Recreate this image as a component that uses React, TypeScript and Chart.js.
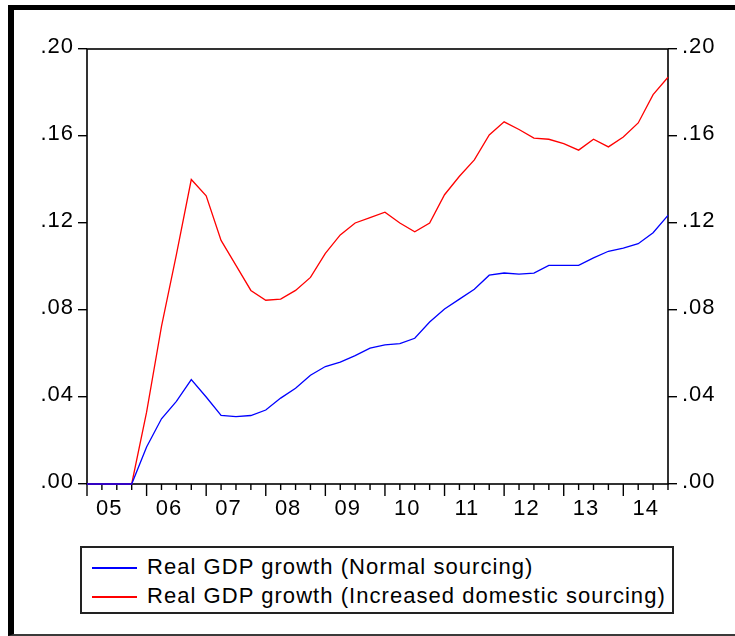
import React, { useEffect, useRef } from 'react';
import { Chart, registerables } from 'chart.js';

Chart.register(...registerables);

// Quarterly periods, 2005Q1 – 2014Q4
const quarters = [
  '2005Q1', '2005Q2', '2005Q3', '2005Q4',
  '2006Q1', '2006Q2', '2006Q3', '2006Q4',
  '2007Q1', '2007Q2', '2007Q3', '2007Q4',
  '2008Q1', '2008Q2', '2008Q3', '2008Q4',
  '2009Q1', '2009Q2', '2009Q3', '2009Q4',
  '2010Q1', '2010Q2', '2010Q3', '2010Q4',
  '2011Q1', '2011Q2', '2011Q3', '2011Q4',
  '2012Q1', '2012Q2', '2012Q3', '2012Q4',
  '2013Q1', '2013Q2', '2013Q3', '2013Q4',
  '2014Q1', '2014Q2', '2014Q3', '2014Q4',
];

const yearLabels = ['05', '06', '07', '08', '09', '10', '11', '12', '13', '14'];

const normalSourcing = [
  0, 0, 0, 0,
  0.017, 0.030, 0.038, 0.048,
  0.040, 0.0315, 0.031, 0.0315,
  0.034, 0.0395, 0.044, 0.050,
  0.054, 0.056, 0.059, 0.0625,
  0.064, 0.0645, 0.067, 0.0745,
  0.0805, 0.085, 0.0895, 0.096,
  0.097, 0.0965, 0.097, 0.1005,
  0.1005, 0.1005, 0.104, 0.107,
  0.1085, 0.1105, 0.1155, 0.1235,
];

const increasedDomestic = [
  0, 0, 0, 0,
  0.033, 0.0725, 0.1055, 0.140,
  0.1325, 0.112, 0.1005, 0.089,
  0.0845, 0.085, 0.089, 0.095,
  0.106, 0.1145, 0.120, 0.1225,
  0.125, 0.120, 0.116, 0.120,
  0.133, 0.1415, 0.149, 0.1605,
  0.1665, 0.163, 0.159, 0.1585,
  0.1565, 0.1535, 0.1585, 0.155,
  0.1595, 0.166, 0.179, 0.187,
];

const yTicks = [0, 0.04, 0.08, 0.12, 0.16, 0.2];

const seriesLabels = [
  'Real GDP growth (Normal sourcing)',
  'Real GDP growth (Increased domestic sourcing)',
];
const seriesColors = ['#0000ff', '#ff0000'];

const FONT = '"Liberation Sans", Arial, Helvetica, sans-serif';

const fmtY = (v: number) => v.toFixed(2).replace(/^0/, '');

// Slightly wider glyph spacing for the axis numbers
const spacingPlugin = {
  id: 'labelSpacing',
  beforeDraw(chart: any) {
    chart.ctx.letterSpacing = '1px';
  },
};

// Plot frame and the quarterly tick marks below the time axis
const framePlugin = {
  id: 'eviewsFrame',
  beforeDatasetsDraw(chart: any) {
    const { ctx, chartArea: a, scales } = chart;
    const xs = scales.x;
    ctx.save();
    ctx.strokeStyle = '#000';
    ctx.lineWidth = 1.6;
    ctx.strokeRect(a.left, a.top, a.right - a.left, a.bottom - a.top);
    ctx.lineWidth = 1.4;
    quarters.forEach((q, i) => {
      const px = xs.getPixelForValue(i);
      const len = q.endsWith('Q1') ? 12 : 6;
      ctx.beginPath();
      ctx.moveTo(px, a.bottom);
      ctx.lineTo(px, a.bottom + len);
      ctx.stroke();
    });
    ctx.restore();
  },
};

function yAxis(position: 'left' | 'right', width: number) {
  return {
    type: 'linear',
    position,
    min: 0,
    max: 0.2,
    afterBuildTicks: (scale: any) => {
      scale.ticks = yTicks.map((v) => ({ value: v }));
    },
    afterFit: (scale: any) => {
      scale.width = width;
    },
    border: { display: false },
    grid: {
      display: true,
      drawOnChartArea: false,
      drawTicks: true,
      tickLength: 9,
      color: '#000',
      lineWidth: 1.4,
    },
    ticks: {
      color: '#000',
      padding: position === 'left' ? 4 : 5,
      labelOffset: -2,
      font: { family: FONT, size: 22 },
      callback: (v: number) => fmtY(v),
    },
  };
}

function GdpChart() {
  const ref = useRef<HTMLCanvasElement | null>(null);

  useEffect(() => {
    if (!ref.current) return;
    const chart = new Chart(ref.current, {
      type: 'line',
      data: {
        datasets: [normalSourcing, increasedDomestic].map((vals, k) => ({
          label: seriesLabels[k],
          data: vals.map((y, i) => ({ x: i, y })),
          borderColor: seriesColors[k],
          backgroundColor: seriesColors[k],
          borderWidth: 1.3,
          pointRadius: 0,
          tension: 0,
          clip: false,
          yAxisID: 'y',
        })),
      },
      options: {
        animation: false,
        responsive: false,
        maintainAspectRatio: false,
        layout: { padding: { top: 49, left: 0, right: 0, bottom: 0 } },
        plugins: {
          legend: { display: false },
          tooltip: { enabled: false },
        },
        scales: {
          x: {
            type: 'linear',
            min: 0,
            max: quarters.length - 1,
            afterBuildTicks: (scale: any) => {
              scale.ticks = yearLabels.map((_, k) => ({ value: k * 4 + 1.5 }));
            },
            afterFit: (scale: any) => {
              scale.height = 56;
            },
            border: { display: false },
            grid: { display: false, drawTicks: false },
            ticks: {
              color: '#000',
              padding: 12,
              maxRotation: 0,
              autoSkip: false,
              font: { family: FONT, size: 22 },
              callback: (_v: number, idx: number) => yearLabels[idx],
            },
          },
          y: yAxis('left', 87),
          y2: yAxis('right', 67),
        } as any,
      },
      plugins: [spacingPlugin, framePlugin],
    } as any);
    return () => chart.destroy();
  }, []);

  return (
    <canvas
      ref={ref}
      width={735}
      height={540}
      style={{ position: 'absolute', left: 0, top: 0, width: 735, height: 540 }}
    />
  );
}

function Legend() {
  return (
    <div
      style={{
        position: 'absolute',
        left: 80,
        top: 546,
        width: 594,
        height: 68,
        boxSizing: 'border-box',
        border: '2px solid #222',
        background: '#fff',
      }}
    >
      {seriesLabels.map((label, k) => (
        <div
          key={label}
          style={{
            position: 'absolute',
            left: 0,
            top: 8 + k * 29,
            height: 22,
            whiteSpace: 'nowrap',
          }}
        >
          <span
            style={{
              position: 'absolute',
              left: 10,
              top: 11,
              width: 45,
              height: 2,
              background: seriesColors[k],
            }}
          />
          <span
            style={{
              position: 'absolute',
              left: 65,
              top: 0,
              fontFamily: FONT,
              fontSize: 22,
              lineHeight: '22px',
              letterSpacing: '1.05px',
              color: '#000',
            }}
          >
            {label}
          </span>
        </div>
      ))}
    </div>
  );
}

export default function App() {
  return (
    <div
      style={{
        position: 'absolute',
        left: 0,
        top: 0,
        width: 735,
        height: 636,
        background: '#fff',
        overflow: 'hidden',
      }}
    >
      <GdpChart />
      <Legend />
      <div
        style={{
          position: 'absolute',
          left: 8,
          top: 5,
          width: 727,
          height: 631,
          boxSizing: 'border-box',
          borderLeft: '6px solid #000',
          borderTop: '5px solid #000',
          borderBottom: '2px solid #3a3a3a',
          pointerEvents: 'none',
        }}
      />
    </div>
  );
}
